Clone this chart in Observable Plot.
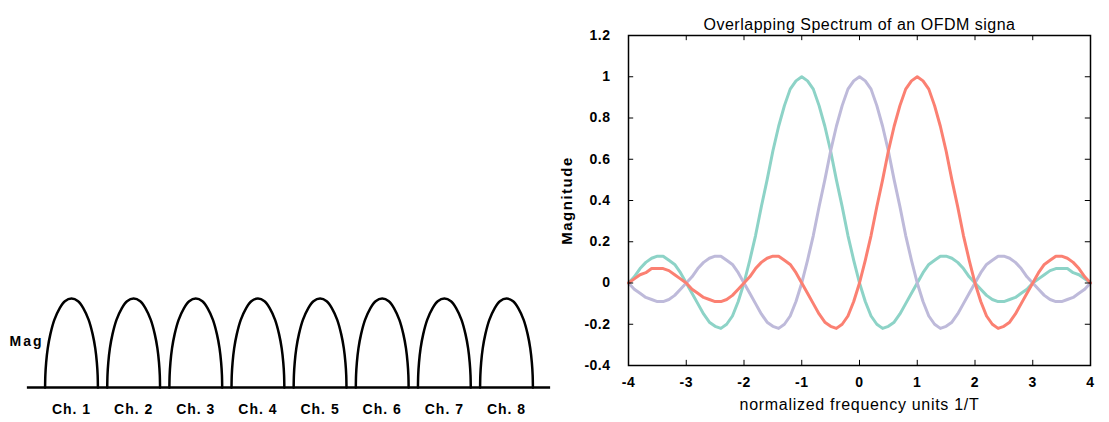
<!DOCTYPE html>
<html>
<head>
<meta charset="utf-8">
<script src="https://cdn.jsdelivr.net/npm/d3@7"></script>
<script src="https://cdn.jsdelivr.net/npm/@observablehq/plot@0.6"></script>
<style>
  html, body { margin: 0; padding: 0; background: #fff; }
  #wrap { display: flex; width: 1109px; height: 422px; overflow: hidden; }
  #wrap svg { display: block; }
</style>
</head>
<body>
<div id="wrap"><div id="left"></div><div id="right"></div></div>
<script>
// ---------- Left panel data (non-overlapping channels) ----------
const channelLabels = ["Ch. 1", "Ch. 2", "Ch. 3", "Ch. 4", "Ch. 5", "Ch. 6", "Ch. 7", "Ch. 8"];
const channelCenters = [1, 2, 3, 4, 5, 6, 7, 8];
// one arch profile (offset from centre in half-widths, relative magnitude)
const archOffset = [-1, -0.99, -0.96, -0.9, -0.8, -0.65, -0.45, -0.25, 0, 0.25, 0.45, 0.65, 0.8, 0.9, 0.96, 0.99, 1];
const archMag    = [0, 0.14, 0.28, 0.44, 0.6, 0.76, 0.89, 0.97, 1, 0.97, 0.89, 0.76, 0.6, 0.44, 0.28, 0.14, 0];

// ---------- Right panel data (overlapping OFDM spectrum) ----------
const freq = [-4,-3.9,-3.8,-3.7,-3.6,-3.5,-3.4,-3.3,-3.2,-3.1,-3,-2.9,-2.8,-2.7,-2.6,-2.5,-2.4,-2.3,-2.2,-2.1,-2,-1.9,-1.8,-1.7,-1.6,-1.5,-1.4,-1.3,-1.2,-1.1,-1,-0.9,-0.8,-0.7,-0.6,-0.5,-0.4,-0.3,-0.2,-0.1,0,0.1,0.2,0.3,0.4,0.5,0.6,0.7,0.8,0.9,1,1.1,1.2,1.3,1.4,1.5,1.6,1.7,1.8,1.9,2,2.1,2.2,2.3,2.4,2.5,2.6,2.7,2.8,2.9,3,3.1,3.2,3.3,3.4,3.5,3.6,3.7,3.8,3.9,4];
const carrierMinus1 = [0,0.03,0.07,0.10,0.12,0.13,0.13,0.11,0.09,0.05,0,-0.05,-0.10,-0.15,-0.19,-0.21,-0.22,-0.20,-0.16,-0.09,0,0.11,0.23,0.37,0.50,0.64,0.76,0.86,0.94,0.98,1,0.98,0.94,0.86,0.76,0.64,0.50,0.37,0.23,0.11,0,-0.09,-0.16,-0.20,-0.22,-0.21,-0.19,-0.15,-0.10,-0.05,0,0.05,0.09,0.11,0.13,0.13,0.12,0.10,0.07,0.03,0,-0.03,-0.06,-0.08,-0.09,-0.09,-0.08,-0.07,-0.05,-0.03,0,0.02,0.04,0.06,0.07,0.07,0.07,0.05,0.04,0.02,0];
const carrierZero = [0,-0.03,-0.05,-0.07,-0.08,-0.09,-0.09,-0.08,-0.06,-0.03,0,0.03,0.07,0.10,0.12,0.13,0.13,0.11,0.09,0.05,0,-0.05,-0.10,-0.15,-0.19,-0.21,-0.22,-0.20,-0.16,-0.09,0,0.11,0.23,0.37,0.50,0.64,0.76,0.86,0.94,0.98,1,0.98,0.94,0.86,0.76,0.64,0.50,0.37,0.23,0.11,0,-0.09,-0.16,-0.20,-0.22,-0.21,-0.19,-0.15,-0.10,-0.05,0,0.05,0.09,0.11,0.13,0.13,0.12,0.10,0.07,0.03,0,-0.03,-0.06,-0.08,-0.09,-0.09,-0.08,-0.07,-0.05,-0.03,0];
const carrierPlus1 = [0,0.02,0.04,0.05,0.07,0.07,0.07,0.06,0.04,0.02,0,-0.03,-0.05,-0.07,-0.08,-0.09,-0.09,-0.08,-0.06,-0.03,0,0.03,0.07,0.10,0.12,0.13,0.13,0.11,0.09,0.05,0,-0.05,-0.10,-0.15,-0.19,-0.21,-0.22,-0.20,-0.16,-0.09,0,0.11,0.23,0.37,0.50,0.64,0.76,0.86,0.94,0.98,1,0.98,0.94,0.86,0.76,0.64,0.50,0.37,0.23,0.11,0,-0.09,-0.16,-0.20,-0.22,-0.21,-0.19,-0.15,-0.10,-0.05,0,0.05,0.09,0.11,0.13,0.13,0.12,0.10,0.07,0.03,0];
const xTicks = [-4, -3, -2, -1, 0, 1, 2, 3, 4];
const yTicks = [-0.4, -0.2, 0, 0.2, 0.4, 0.6, 0.8, 1, 1.2];
const titleText = "Overlapping Spectrum of an OFDM signa";
const xLabelText = "normalized frequency units 1/T";
const yLabelText = "Magnitude";
const leftYLabel = "Mag";

const FONT = "'Liberation Sans', Arial, Helvetica, sans-serif";
const seriesColors = ["#8dd3c7", "#bebada", "#fb8072"];

// ---------- Left panel ----------
const archHalfWidth = 0.425;
const archRows = [];
channelCenters.forEach((c, k) => {
  archOffset.forEach((o, i) => archRows.push({ch: channelLabels[k], x: c + o * archHalfWidth, y: archMag[i]}));
});
const labelRows = channelLabels.map((t, i) => ({t, x: channelCenters[i]}));
const baseExt = 0.71;

const left = Plot.plot({
  width: 555, height: 422,
  marginLeft: 0, marginRight: 0, marginTop: 0, marginBottom: 0,
  style: {fontFamily: FONT, background: "white", overflow: "visible"},
  x: {domain: [1, 8], range: [71, 506], axis: null},
  y: {domain: [0, 1], range: [387, 298], axis: null},
  marks: [
    Plot.ruleY([0], {x1: channelCenters[0] - baseExt, x2: channelCenters[channelCenters.length - 1] + baseExt, stroke: "black", strokeWidth: 2.5}),
    Plot.line(archRows, {x: "x", y: "y", z: "ch", curve: "catmull-rom", stroke: "black", strokeWidth: 2.5}),
    Plot.text(labelRows, {x: "x", y: () => 0, text: "t", dy: 22, fontSize: 14, fontWeight: "bold", fill: "black"}),
    Plot.text([leftYLabel], {x: () => channelCenters[0] - 0.45, y: () => 0.52, text: d => d, textAnchor: "end", fontSize: 14, fontWeight: "bold", fill: "black"})
  ]
});
document.getElementById("left").appendChild(left);

// ---------- Right panel ----------
const mk = (vals) => freq.map((f, i) => ({f, v: vals[i]}));
const right = Plot.plot({
  width: 554, height: 422,
  marginLeft: 73, marginRight: 19, marginTop: 35, marginBottom: 57,
  style: {fontFamily: FONT, background: "white", overflow: "visible"},
  x: {domain: [-4, 4]},
  y: {domain: [-0.4, 1.2]},
  marks: [
    Plot.line(mk(carrierMinus1), {x: "f", y: "v", stroke: seriesColors[0], strokeWidth: 3}),
    Plot.line(mk(carrierZero), {x: "f", y: "v", stroke: seriesColors[1], strokeWidth: 3}),
    Plot.line(mk(carrierPlus1), {x: "f", y: "v", stroke: seriesColors[2], strokeWidth: 3}),
    // inward ticks (gnuplot style, mirrored)
    Plot.ruleX(xTicks, {x: d => d, y1: -0.4, y2: -0.375, stroke: "black", strokeWidth: 1}),
    Plot.ruleX(xTicks, {x: d => d, y1: 1.2, y2: 1.175, stroke: "black", strokeWidth: 1}),
    Plot.ruleY(yTicks, {y: d => d, x1: -4, x2: -3.91, stroke: "black", strokeWidth: 1}),
    Plot.ruleY(yTicks, {y: d => d, x1: 4, x2: 3.91, stroke: "black", strokeWidth: 1}),
    Plot.frame({stroke: "black", strokeWidth: 1.5}),
    Plot.axisX(xTicks, {tickSize: 0, tickPadding: 12, tickFormat: d => String(d), label: null, fontSize: 14, fontWeight: "bold"}),
    Plot.axisY(yTicks, {tickSize: 0, tickPadding: 18, tickFormat: d => String(d), label: null, fontSize: 14, fontWeight: "bold"}),
    Plot.text([titleText], {frameAnchor: "top", dy: -17, text: d => d, fontSize: 16, fill: "black"}),
    Plot.text([xLabelText], {frameAnchor: "bottom", dy: 44, text: d => d, fontSize: 16, fill: "black"}),
    Plot.text([yLabelText], {frameAnchor: "left", dx: -61, rotate: -90, textAnchor: "middle", text: d => d, fontSize: 15, fontWeight: "bold", fill: "black"})
  ]
});
document.getElementById("right").appendChild(right);

// letter spacing tweaks to mimic the wide bitmap font of the original
const spacing = (svg, pred, ls) => d3.select(svg).selectAll("text").filter(function () { return pred(this.textContent); }).style("letter-spacing", ls);
spacing(right, t => t === titleText, "0.5px");
spacing(right, t => t === xLabelText, "0.7px");
spacing(right, t => t === yLabelText, "1.5px");
spacing(left, t => channelLabels.includes(t), "1px");
spacing(left, t => t === leftYLabel, "2px");
spacing(right, t => xTicks.map(String).includes(t) || yTicks.map(String).includes(t), "0.5px");
</script>
</body>
</html>
